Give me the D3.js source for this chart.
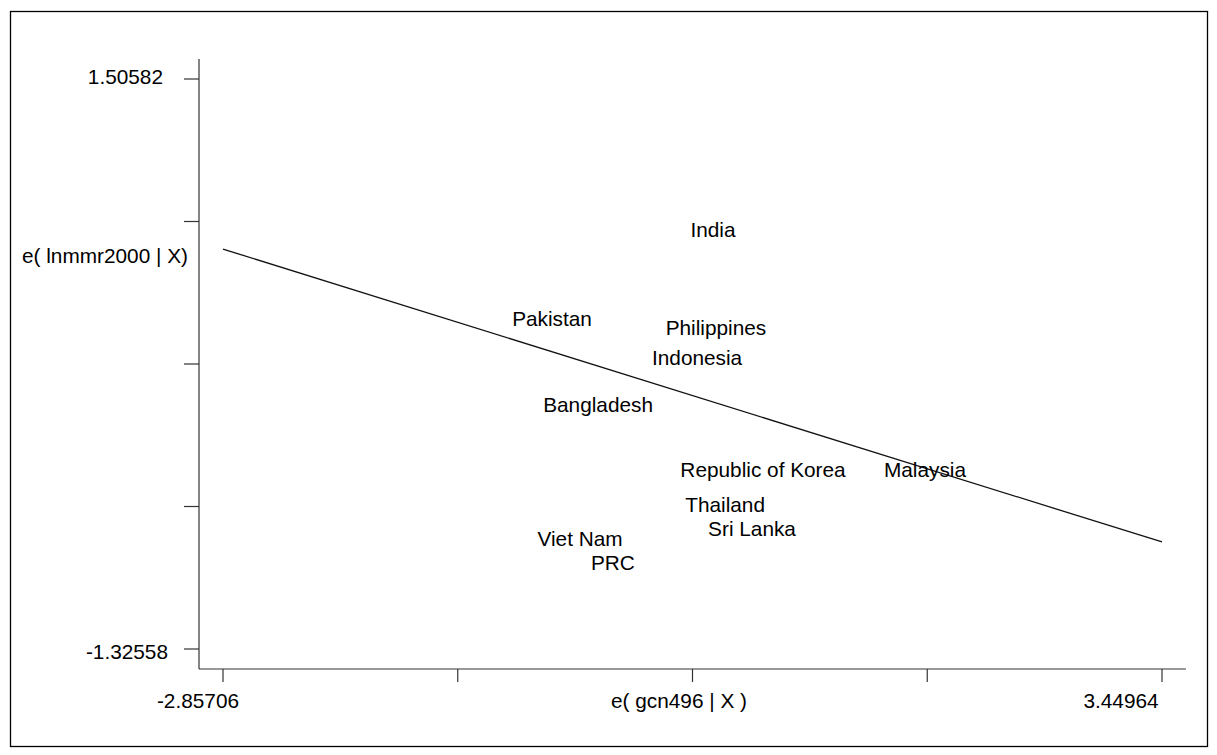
<!DOCTYPE html>
<html>
<head>
<meta charset="utf-8">
<script src="https://cdn.jsdelivr.net/npm/d3@7"></script>
<style>
  html, body { margin: 0; padding: 0; background: #fff; }
  svg { display: block; }
  text { font-family: "Liberation Sans", Arial, sans-serif; font-size: 20.8px; fill: #000; }
</style>
</head>
<body>
<svg id="chart" width="1217" height="755"></svg>
<script>
// Added-variable plot: residual of ln MMR 2000 against residual of gcn496
const countries = ["India", "Pakistan", "Philippines", "Indonesia", "Bangladesh",
  "Republic of Korea", "Malaysia", "Thailand", "Sri Lanka", "Viet Nam", "PRC"];
const xResid = [0.434, -0.647, 0.454, 0.327, -0.338, 0.770, 1.858, 0.515, 0.696, -0.459, -0.238];
const yResid = [0.756, 0.314, 0.269, 0.120, -0.114, -0.436, -0.436, -0.610, -0.729, -0.779, -0.898];

// fitted line endpoints (x range of the data)
const fitX = [-2.85706, 3.44964];
const fitY = [0.661, -0.794];

// axis ranges and the labelled ticks
const xDomain = [-2.85706, 3.44964];
const yDomain = [-1.32558, 1.50582];
const xTickLabels = ["-2.85706", "", "", "", "3.44964"];
const yTickLabels = ["-1.32558", "", "", "", "1.50582"];

const xTitle = "e( gcn496 | X )";
const yTitle = "e( lnmmr2000 | X)";

const svg = d3.select("#chart");

// outer frame
svg.append("rect")
  .attr("x", 10.5).attr("y", 11.5)
  .attr("width", 1197).attr("height", 735)
  .attr("fill", "none").attr("stroke", "#000").attr("stroke-width", 1.3);

const x = d3.scaleLinear().domain(xDomain).range([223, 1162]);
const y = d3.scaleLinear().domain(yDomain).range([649, 79]);

const axisX0 = 199, axisY0 = 669;

// axis lines
svg.append("line")
  .attr("x1", axisX0).attr("x2", axisX0)
  .attr("y1", 59).attr("y2", axisY0)
  .attr("stroke", "#333").attr("stroke-width", 1.2);
svg.append("line")
  .attr("x1", axisX0).attr("x2", 1186)
  .attr("y1", axisY0).attr("y2", axisY0)
  .attr("stroke", "#333").attr("stroke-width", 1.2);

// evenly spaced ticks between the axis extremes
const xTicks = d3.range(5).map(i => xDomain[0] + i * (xDomain[1] - xDomain[0]) / 4);
const yTicks = d3.range(5).map(i => yDomain[0] + i * (yDomain[1] - yDomain[0]) / 4);

svg.append("g").selectAll("line").data(xTicks).join("line")
  .attr("x1", d => x(d)).attr("x2", d => x(d))
  .attr("y1", axisY0).attr("y2", axisY0 + 13)
  .attr("stroke", "#333").attr("stroke-width", 1.2);

svg.append("g").selectAll("line").data(yTicks).join("line")
  .attr("x1", axisX0 - 15).attr("x2", axisX0)
  .attr("y1", d => y(d)).attr("y2", d => y(d))
  .attr("stroke", "#333").attr("stroke-width", 1.2);

// x tick labels (only the extremes carry text)
const xLabelShift = [-25, 0, 0, 0, -41];
svg.append("g").selectAll("text").data(xTicks).join("text")
  .attr("x", (d, i) => x(d) + xLabelShift[i])
  .attr("y", 708)
  .attr("text-anchor", "middle")
  .text((d, i) => xTickLabels[i]);

// y tick labels
const yLabelPos = [{ x: 168, dy: 10 }, null, null, null, { x: 163, dy: 4.5 }];
svg.append("g").selectAll("text").data(yTicks).join("text")
  .attr("x", (d, i) => yLabelPos[i] ? yLabelPos[i].x : 0)
  .attr("y", (d, i) => y(d) + (yLabelPos[i] ? yLabelPos[i].dy : 0))
  .attr("text-anchor", "end")
  .text((d, i) => yTickLabels[i]);

// axis titles
svg.append("text")
  .attr("x", 679).attr("y", 708)
  .attr("text-anchor", "middle")
  .text(xTitle);
svg.append("text")
  .attr("x", 188).attr("y", 263)
  .attr("text-anchor", "end")
  .text(yTitle);

// fitted line
svg.append("path")
  .datum(d3.zip(fitX, fitY))
  .attr("d", d3.line().x(d => x(d[0])).y(d => y(d[1])))
  .attr("fill", "none").attr("stroke", "#111").attr("stroke-width", 1.3);

// country labels centred on each point
svg.append("g").selectAll("text").data(countries).join("text")
  .attr("x", (d, i) => x(xResid[i]))
  .attr("y", (d, i) => y(yResid[i]))
  .attr("dy", "0.35em")
  .attr("text-anchor", "middle")
  .text(d => d);
</script>
</body>
</html>
